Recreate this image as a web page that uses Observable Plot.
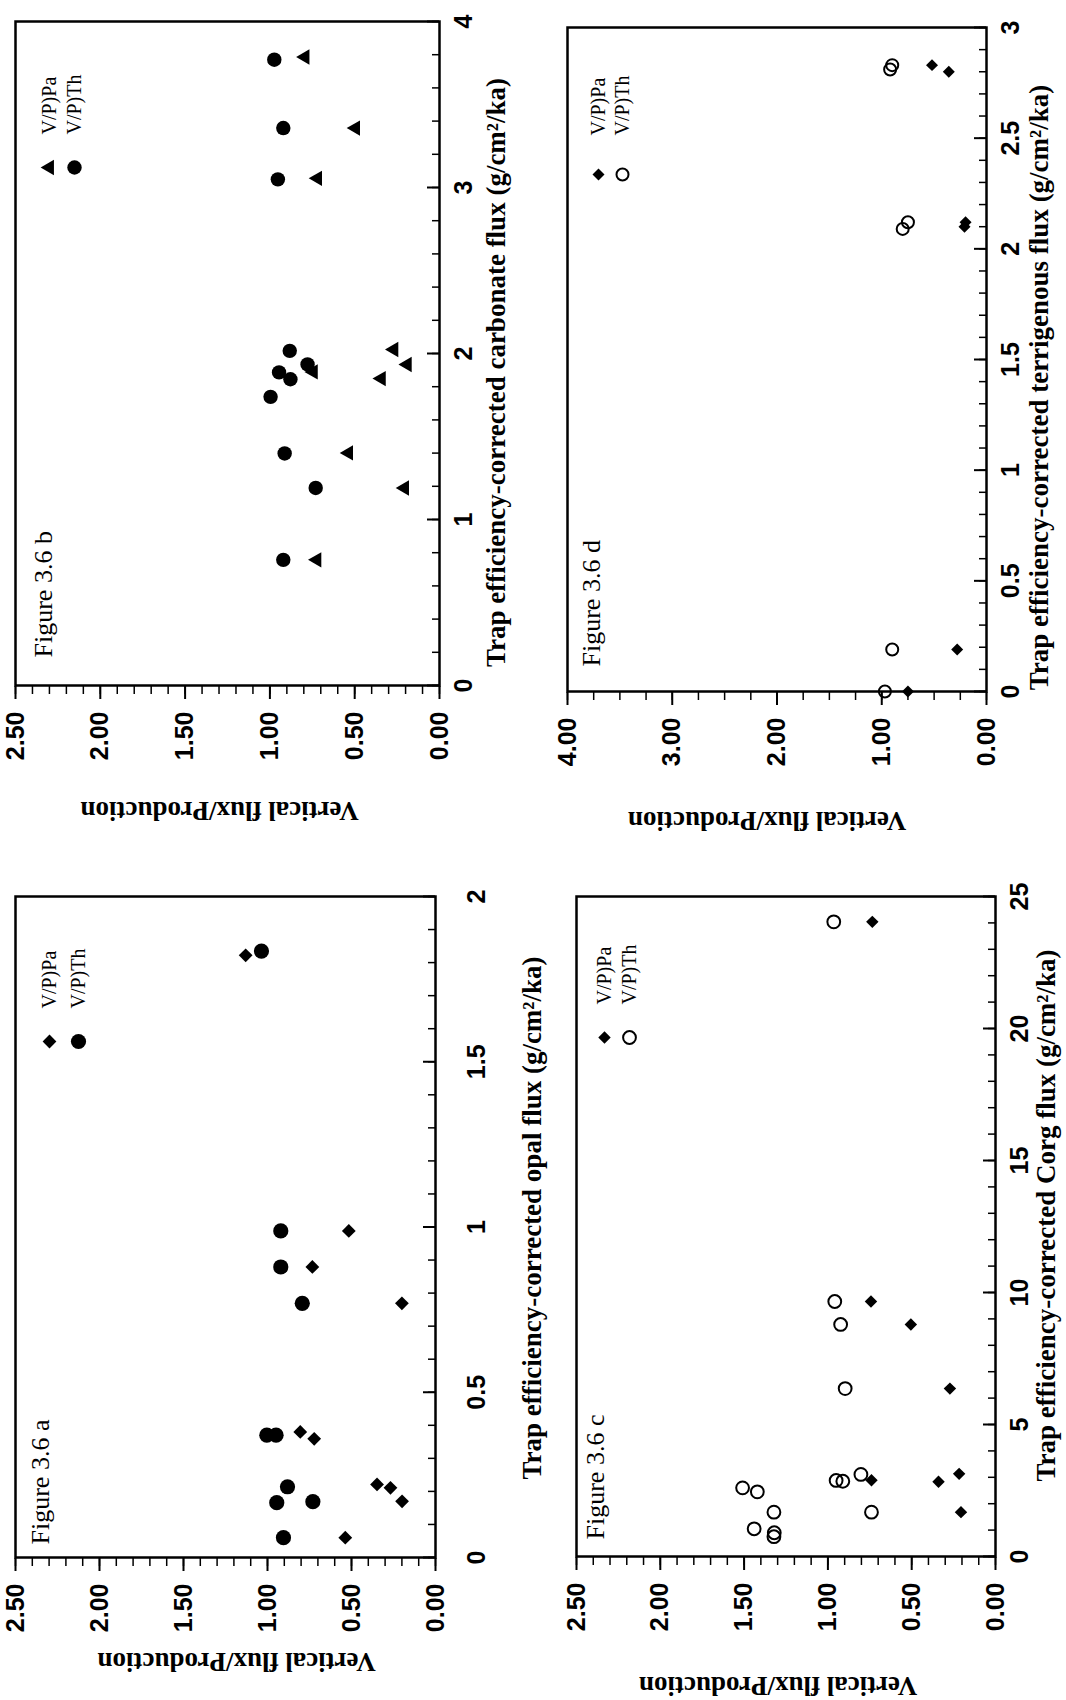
<!DOCTYPE html>
<html><head><meta charset="utf-8">
<script src="https://cdn.jsdelivr.net/npm/d3@7"></script>
<script src="https://cdn.jsdelivr.net/npm/@observablehq/plot@0.6"></script>
<style>
html,body{margin:0;padding:0;background:#fff;}
#page{position:relative;width:1066px;height:1700px;overflow:hidden;background:#fff;}
#rot{position:absolute;left:0;top:0;width:1700px;height:1066px;transform-origin:0 0;transform:translate(0px,1700px) rotate(-90deg);}
#rot svg{position:absolute;left:0;top:0;}
</style></head><body>
<div id="page"><div id="rot"></div></div>
<script>
// ---------- data ----------
// Figure 3.6 a : opal flux
const aPaX = [0.060, 0.170, 0.221, 0.211, 0.359, 0.380, 0.769, 0.879, 0.988, 1.822];
const aPaY = [0.537, 0.199, 0.348, 0.268, 0.722, 0.805, 0.200, 0.733, 0.516, 1.130];
const aThX = [0.060, 0.166, 0.169, 0.214, 0.370, 0.370, 0.769, 0.879, 0.988, 1.835];
const aThY = [0.905, 0.945, 0.730, 0.881, 1.004, 0.949, 0.793, 0.921, 0.921, 1.036];
// Figure 3.6 b : carbonate flux
const bPaX = [0.757, 1.190, 1.401, 1.849, 1.889, 1.934, 2.024, 3.055, 3.358, 3.786];
const bPaY = [0.723, 0.206, 0.536, 0.343, 0.744, 0.190, 0.269, 0.719, 0.495, 0.793];
const bThX = [0.757, 1.190, 1.398, 1.739, 1.845, 1.886, 1.934, 2.016, 3.049, 3.358, 3.770];
const bThY = [0.921, 0.730, 0.913, 0.996, 0.879, 0.946, 0.778, 0.883, 0.953, 0.921, 0.974];
// Figure 3.6 c : Corg flux
const cPaX = [1.68, 2.83, 2.89, 3.13, 6.36, 8.79, 9.66, 24.04];
const cPaY = [0.206, 0.340, 0.740, 0.217, 0.272, 0.505, 0.743, 0.735];
const cThX = [0.75, 0.90, 1.05, 1.68, 1.68, 2.45, 2.60, 2.85, 2.88, 3.11, 6.36, 8.79, 9.66, 24.04];
const cThY = [1.322, 1.320, 1.440, 1.322, 0.740, 1.421, 1.509, 0.911, 0.951, 0.803, 0.897, 0.924, 0.959, 0.965];
// Figure 3.6 d : terrigenous flux
const dPaX = [0.00, 0.19, 2.10, 2.12, 2.80, 2.83];
const dPaY = [0.75, 0.28, 0.21, 0.20, 0.36, 0.52];
const dThX = [0.00, 0.19, 2.09, 2.12, 2.81, 2.83];
const dThY = [0.97, 0.90, 0.80, 0.75, 0.92, 0.90];

// tick labels
const aXTicks = [0, 0.5, 1, 1.5, 2];
const bXTicks = [0, 1, 2, 3, 4];
const cXTicks = [0, 5, 10, 15, 20, 25];
const dXTicks = [0, 0.5, 1, 1.5, 2, 2.5, 3];
const yTicks25 = [0, 0.5, 1, 1.5, 2, 2.5];
const yTicks4 = [0, 1, 2, 3, 4];

// texts
const yTitle = "Vertical flux/Production";
const xTitles = {
  a: "Trap efficiency-corrected opal flux (g/cm²/ka)",
  b: "Trap efficiency-corrected carbonate flux (g/cm²/ka)",
  c: "Trap efficiency-corrected Corg flux (g/cm²/ka)",
  d: "Trap efficiency-corrected terrigenous flux (g/cm²/ka)"
};
const figLabels = {a: "Figure 3.6 a", b: "Figure 3.6 b", c: "Figure 3.6 c", d: "Figure 3.6 d"};
const seriesNames = ["V/P)Pa", "V/P)Th"];

// ---------- drawing ----------
const W = 1700, H = 1066;
const zip = (xs, ys) => xs.map((x, i) => ({x, y: ys[i]}));
const steps = (max, step) => d3.range(0, Math.round(max / step) + 1).map(i => +(i * step).toFixed(4));
const TICKFONT = "Liberation Sans, Arial, sans-serif";
const SERIF = "Liberation Serif, Times New Roman, serif";

function panel(c) {
  const [X0, X1, Y0, Y1] = c.frame;
  const fw = X1 - X0, fh = Y1 - Y0;
  const pa = zip(c.paX, c.paY), th = zip(c.thX, c.thY);
  const thStyle = c.thOpen
    ? {stroke: "black", strokeWidth: 2, fill: "none"}
    : {fill: "black", stroke: "none"};
  const plot = Plot.plot({
    width: W, height: H,
    marginLeft: X0, marginRight: W - X1, marginTop: Y0, marginBottom: H - Y1,
    style: {background: "transparent", overflow: "visible"},
    x: {domain: c.xDomain, axis: null, label: null},
    y: {domain: c.yDomain, axis: null, label: null},
    marks: [
      Plot.ruleX(steps(c.xDomain[1], c.xMinor), {x: d => d, insetTop: fh - 7, strokeWidth: 1.5}),
      Plot.ruleX(c.xTicks, {x: d => d, insetTop: fh - 12, strokeWidth: 2}),
      Plot.ruleY(steps(c.yDomain[1], c.yMinor), {y: d => d, insetRight: fw - 8, dx: -8, strokeWidth: 1.5}),
      Plot.ruleY(c.yTicks, {y: d => d, insetRight: fw - 13, dx: -13, strokeWidth: 2}),
      Plot.frame({stroke: "black", strokeWidth: 2.5}),
      Plot.axisX(c.xTicks, {anchor: "bottom", tickSize: 0, tickPadding: c.xPad, label: null,
        tickFormat: d => String(d),
        fontSize: 25, fontWeight: "bold", fontFamily: TICKFONT, fill: "black"}),
      Plot.axisY(c.yTicks, {anchor: "left", tickSize: 0, tickPadding: 26, label: null,
        tickFormat: d3.format(".2f"), fontSize: 25, fontWeight: "bold", fontFamily: TICKFONT, fill: "black"}),
      Plot.dot(th, {x: "x", y: "y", symbol: "circle", r: c.thR, ...thStyle}),
      Plot.dot(pa, {x: "x", y: "y", symbol: c.paSymbol, r: c.paR, fill: "black", stroke: "none"}),
      // legend
      Plot.dot([0], {frameAnchor: "top-right", dx: c.leg.sx, dy: c.leg.dy[0], symbol: c.paSymbol, r: c.paR, fill: "black"}),
      Plot.dot([0], {frameAnchor: "top-right", dx: c.leg.sx, dy: c.leg.dy[1], symbol: "circle", r: c.thR, ...thStyle}),
      Plot.text([seriesNames[0]], {frameAnchor: "top-right", dx: c.leg.tx, dy: c.leg.dy[0], text: d => d,
        textAnchor: "start", lineAnchor: "middle", fontSize: 20, fontFamily: SERIF, fill: "black"}),
      Plot.text([seriesNames[1]], {frameAnchor: "top-right", dx: c.leg.tx, dy: c.leg.dy[1], text: d => d,
        textAnchor: "start", lineAnchor: "middle", fontSize: 20, fontFamily: SERIF, fill: "black"}),
      // panel label
      Plot.text([c.fig], {frameAnchor: "top-left", dx: c.figPos[0], dy: c.figPos[1], text: d => d,
        textAnchor: "start", lineAnchor: "middle", fontSize: 26, fontFamily: SERIF, fill: "black"}),
      // axis titles
      Plot.text([c.xTitle], {frameAnchor: "bottom", dx: c.xt[0], dy: c.xt[1], text: d => d,
        textAnchor: "middle", lineAnchor: "middle", fontSize: 27, fontWeight: "bold", fontFamily: SERIF,
        fill: "black", ariaLabel: "xtitle-" + c.id}),
      Plot.text([yTitle], {frameAnchor: "left", dx: c.yt[0], dy: c.yt[1], rotate: -90, text: d => d,
        textAnchor: "middle", lineAnchor: "middle", fontSize: 27, fontWeight: "bold", fontFamily: SERIF,
        fill: "black", ariaLabel: "ytitle-" + c.id})
    ]
  });
  document.getElementById("rot").appendChild(plot);
  const fit = (sel, len) => plot.querySelectorAll(sel).forEach(t => {
    t.setAttribute("textLength", len);
    t.setAttribute("lengthAdjust", "spacingAndGlyphs");
  });
  fit(`g[aria-label="xtitle-${c.id}"] text`, c.xtLen);
  fit(`g[aria-label="ytitle-${c.id}"] text`, c.ytLen);
}

panel({id: "a", frame: [142, 803, 15, 435], xDomain: [0, 2], yDomain: [0, 2.5],
  xTicks: aXTicks, xMinor: 0.1, yTicks: yTicks25, yMinor: 0.1, xPad: 32,
  paX: aPaX, paY: aPaY, thX: aThX, thY: aThY, paSymbol: d3.symbolDiamond2, paR: 6.2, thR: 7.6, thOpen: false,
  leg: {sx: -145, tx: -112, dy: [34, 63]}, fig: figLabels.a, figPos: [13, 25],
  xTitle: xTitles.a, xt: [9, 97], xtLen: 585, yt: [-104, 11], ytLen: 295});

panel({id: "b", frame: [1014, 1678, 15, 439], xDomain: [0, 4], yDomain: [0, 2.5],
  xTicks: bXTicks, xMinor: 0.2, yTicks: yTicks25, yMinor: 0.1, xPad: 15,
  paX: bPaX, paY: bPaY, thX: bThX, thY: bThY, paSymbol: "triangle", paR: 5.7, thR: 7.2, thOpen: false,
  leg: {sx: -146, tx: -113, dy: [34, 59]}, fig: figLabels.b, figPos: [28, 28],
  xTitle: xTitles.b, xt: [-19, 57], xtLen: 640, yt: [-125, -8], ytLen: 300});

panel({id: "c", frame: [143, 803, 576, 995], xDomain: [0, 25], yDomain: [0, 2.5],
  xTicks: cXTicks, xMinor: 1, yTicks: yTicks25, yMinor: 0.1, xPad: 15,
  paX: cPaX, paY: cPaY, thX: cThX, thY: cThY, paSymbol: d3.symbolDiamond2, paR: 5.6, thR: 6.4, thOpen: true,
  leg: {sx: -141, tx: -108, dy: [28, 53]}, fig: figLabels.c, figPos: [17, 19],
  xTitle: xTitles.c, xt: [11, 51], xtLen: 585, yt: [-129, -8], ytLen: 305});

panel({id: "d", frame: [1008, 1672, 567, 986], xDomain: [0, 3], yDomain: [0, 4],
  xTicks: dXTicks, xMinor: 0.1, yTicks: yTicks4, yMinor: 0.25, xPad: 15,
  paX: dPaX, paY: dPaY, thX: dThX, thY: dThY, paSymbol: d3.symbolDiamond2, paR: 5.4, thR: 6, thOpen: true,
  leg: {sx: -147, tx: -108, dy: [31, 55]}, fig: figLabels.d, figPos: [25, 24],
  xTitle: xTitles.d, xt: [-28, 53], xtLen: 660, yt: [-129, -10], ytLen: 300});
</script>
</body></html>
